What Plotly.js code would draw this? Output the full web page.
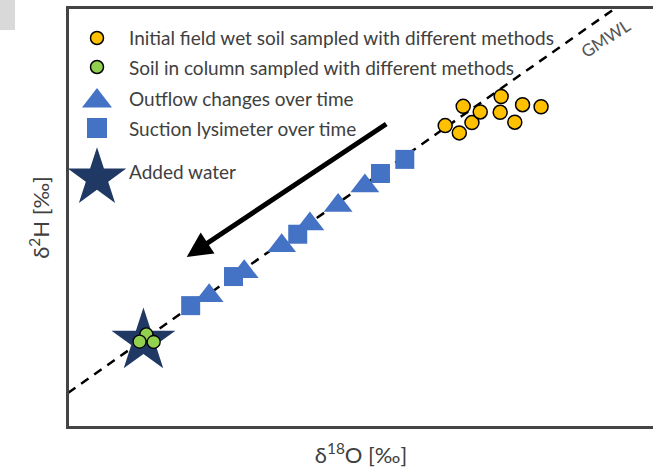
<!DOCTYPE html>
<html>
<head>
<meta charset="utf-8">
<script src="https://cdn.plot.ly/plotly-3.0.1.min.js"></script>
<style>
  html, body { margin: 0; padding: 0; background: #ffffff; }
  #chart { width: 653px; height: 468px; }
</style>
</head>
<body>
<div id="chart"></div>
<script>
// ---- data (δ18O, δ2H in ‰; axes carry no tick labels in the original) ----
const initialX   = [-6.25, -5.96, -5.88, -5.70, -5.53, -5.10, -5.12, -4.82, -4.66, -4.28];
const initialY   = [-39.5, -41.2, -35.0, -38.8, -36.3, -32.7, -36.4, -38.7, -34.6, -35.1];
const columnX    = [-12.39, -12.53, -12.24];
const columnY    = [-88.3, -90.0, -90.1];
const outflowX   = [-7.90, -8.45, -9.03, -9.61, -10.38, -11.10];
const outflowY   = [-53.6, -58.2, -62.5, -67.6, -73.7, -79.3];
const lysimeterX = [-7.08, -7.58, -9.28, -10.60, -11.48];
const lysimeterY = [-47.4, -50.7, -64.9, -74.8, -81.6];
const addedX     = [-12.45];
const addedY     = [-89.9];
const gmwlX      = [-14, -2];
const gmwlY      = [-102, -6];
const legendLabels = [
  "Initial field wet soil sampled with different methods",
  "Soil in column sampled with different methods",
  "Outflow changes over time",
  "Suction lysimeter over time",
  "Added water"
];
const xTitle = "δ<sup>18</sup>O [‰]";
const yTitle = "δ<sup>2</sup>H [‰]";
const lineLabel = "GMWL";

// ---- styles ----
const ORANGE = "#FFC000", GREEN = "#92D050", BLUE = "#4472C4", NAVY = "#203864";
const TXT = "#404040";
const FONT = "Lato, 'Open Sans', sans-serif";

const traces = [
  { x: gmwlX, y: gmwlY, mode: "lines", showlegend: false, hoverinfo: "skip",
    line: { color: "#000", width: 2.5, dash: "9px,7px" } },
  { x: addedX, y: addedY, mode: "markers", showlegend: false,
    marker: { symbol: "star", size: 48, color: NAVY } },
  { x: outflowX, y: outflowY, mode: "markers", showlegend: false,
    marker: { symbol: "triangle-up", size: 25, color: BLUE } },
  { x: lysimeterX, y: lysimeterY, mode: "markers", showlegend: false,
    marker: { symbol: "square", size: 19, color: BLUE } },
  { x: initialX, y: initialY, mode: "markers", showlegend: false,
    marker: { symbol: "circle", size: 14, color: ORANGE, line: { color: "#000", width: 1.5 } } },
  { x: columnX, y: columnY, mode: "markers", showlegend: false,
    marker: { symbol: "circle", size: 13, color: GREEN, line: { color: "#000", width: 1.3 } } }
];

// ---- hand-drawn legend on a hidden pixel-like overlay axis ----
const legendStyles = [
  { symbol: "circle", size: 13, color: ORANGE, line: { color: "#000", width: 1.5 } },
  { symbol: "circle", size: 13, color: GREEN, line: { color: "#000", width: 1.5 } },
  { symbol: "triangle-up", size: 26, color: BLUE },
  { symbol: "square", size: 20, color: BLUE },
  { symbol: "star", size: 44, color: NAVY }
];
const legMarkerY = [38, 67, 101, 128, 178];
const legTextY   = [37, 67, 98, 128, 171];
const annotations = [];
legendLabels.forEach((lab, i) => {
  traces.push({ x: [97], y: [legMarkerY[i]], xaxis: "x2", yaxis: "y2", mode: "markers",
    showlegend: false, hoverinfo: "skip", cliponaxis: false, marker: legendStyles[i] });
  annotations.push({ xref: "x2", yref: "y2", x: 127, y: legTextY[i], text: lab,
    showarrow: false, xanchor: "left", yanchor: "middle",
    font: { family: FONT, size: 19, color: TXT } });
});

// arrow
annotations.push({ xref: "x", yref: "y", axref: "x", ayref: "y",
  x: -11.56, y: -70.2, ax: -7.43, ay: -38.9, text: "", showarrow: true,
  arrowhead: 2, arrowsize: 1, arrowwidth: 5, arrowcolor: "#000", standoff: 0 });
// GMWL label
annotations.push({ xref: "x2", yref: "y2", x: 605, y: 38, text: lineLabel, showarrow: false,
  textangle: -33, font: { family: FONT, size: 17, color: "#555" } });

const L = 69, R = 0, T = 9, B = 42;
const W = 653, H = 468;
const pw = W - L - R, ph = H - T - B;

const layout = {
  width: W, height: H,
  margin: { l: L, r: R, t: T, b: B, pad: 0 },
  paper_bgcolor: "#fff", plot_bgcolor: "#fff",
  showlegend: false,
  xaxis: { range: [-13.98, -1.98], showgrid: false, zeroline: false, showticklabels: false,
    ticks: "", showline: true, mirror: true, linecolor: "#444", linewidth: 3, automargin: false,
    title: { text: xTitle, standoff: 20, font: { family: FONT, size: 22, color: TXT } } },
  yaxis: { range: [-109.75, -12.23], showgrid: false, zeroline: false, showticklabels: false,
    ticks: "", showline: true, mirror: true, linecolor: "#444", linewidth: 3, automargin: false,
    title: { text: yTitle, standoff: 11, font: { family: FONT, size: 22, color: TXT } } },
  xaxis2: { overlaying: "x", range: [69, 653], visible: false, fixedrange: true },
  yaxis2: { overlaying: "y", range: [426, 9], visible: false, fixedrange: true },
  annotations: annotations,
  shapes: [{ type: "rect", xref: "paper", yref: "paper",
    x0: (0 - L) / pw, x1: (15 - L) / pw, y0: (H - B - 0) / ph, y1: (H - B - 30) / ph,
    fillcolor: "#d9d9d9", line: { width: 0 } }]
};

Plotly.newPlot("chart", traces, layout, { staticPlot: true, displayModeBar: false });
</script>
</body>
</html>
